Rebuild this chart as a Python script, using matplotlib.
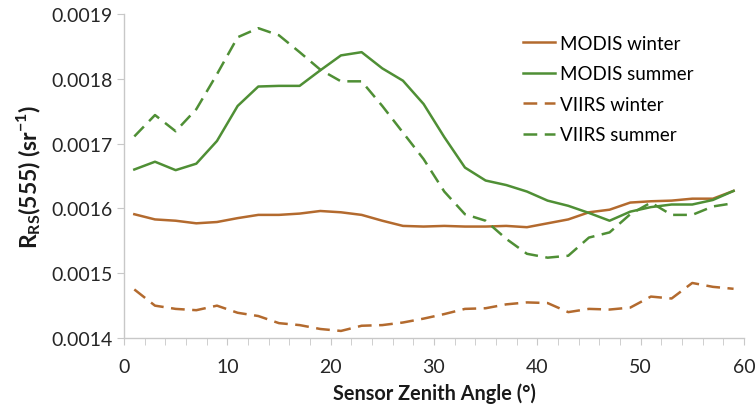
import numpy as np
import matplotlib
matplotlib.use("Agg")
import matplotlib.pyplot as plt

plt.rcParams['font.family'] = ['Lato', 'DejaVu Sans']
plt.rcParams['mathtext.fontset'] = 'custom'
plt.rcParams['mathtext.rm'] = 'Lato'
plt.rcParams['mathtext.bf'] = 'Lato:bold'

# sensor zenith angle (deg), bin centres
angle = np.arange(1, 60, 2)

# Rrs(555) in units of 1e-4 sr^-1
modis_winter = [15.91, 15.83, 15.81, 15.77, 15.79, 15.85, 15.90, 15.90, 15.92, 15.96,
                15.94, 15.90, 15.81, 15.73, 15.72, 15.73, 15.72, 15.72, 15.73, 15.71,
                15.77, 15.83, 15.94, 15.98, 16.09, 16.11, 16.12, 16.15, 16.15, 16.27]
modis_summer = [16.60, 16.72, 16.59, 16.69, 17.04, 17.58, 17.88, 17.89, 17.89, 18.13,
                18.36, 18.41, 18.16, 17.97, 17.61, 17.10, 16.63, 16.43, 16.36, 16.26,
                16.12, 16.04, 15.93, 15.81, 15.95, 16.02, 16.06, 16.06, 16.13, 16.27]
viirs_winter = [14.75, 14.50, 14.45, 14.43, 14.50, 14.39, 14.34, 14.23, 14.20, 14.14,
                14.11, 14.19, 14.20, 14.24, 14.30, 14.37, 14.45, 14.46, 14.52, 14.55,
                14.54, 14.40, 14.45, 14.44, 14.47, 14.64, 14.61, 14.85, 14.79, 14.76]
viirs_summer = [17.11, 17.44, 17.19, 17.53, 18.07, 18.64, 18.78, 18.67, 18.41, 18.14,
                17.96, 17.96, 17.58, 17.17, 16.76, 16.26, 15.91, 15.81, 15.53, 15.30,
                15.24, 15.27, 15.55, 15.63, 15.91, 16.09, 15.90, 15.90, 16.03, 16.08]

brown = '#B36A2E'
green = '#4F8F35'

fig = plt.figure(figsize=(7.56, 4.14), dpi=100)
ax = fig.add_axes([0.164, 0.181, 0.820, 0.783])

scale = 1e-4
ax.plot(angle, np.array(modis_winter) * scale, color=brown, lw=1.8, label='MODIS winter')
ax.plot(angle, np.array(modis_summer) * scale, color=green, lw=1.8, label='MODIS summer')
ax.plot(angle, np.array(viirs_winter) * scale, color=brown, lw=1.8, dashes=(5.5, 3), label='VIIRS winter')
ax.plot(angle, np.array(viirs_summer) * scale, color=green, lw=1.8, dashes=(5.5, 3), label='VIIRS summer')

ax.set_xlim(0, 60)
ax.set_ylim(0.0014, 0.0019)
ax.set_xticks(np.arange(0, 61, 10))
ax.set_xticks(np.arange(0, 61, 2), minor=True)
ax.set_yticks([0.0014, 0.0015, 0.0016, 0.0017, 0.0018, 0.0019])
ax.set_yticklabels(['0.0014', '0.0015', '0.0016', '0.0017', '0.0018', '0.0019'])

for s in ['top', 'right']:
    ax.spines[s].set_visible(False)
for s in ['left', 'bottom']:
    ax.spines[s].set_color('#c8c8c8')
    ax.spines[s].set_linewidth(1.0)
ax.tick_params(axis='both', which='both', color='#c8c8c8', labelsize=14,
               labelcolor='#262626', direction='out')
ax.tick_params(axis='x', which='both', length=5, pad=9)
ax.tick_params(axis='y', length=5, pad=3)

ax.set_xlabel('Sensor Zenith Angle (°)', fontsize=14.3, fontweight='bold', color='#1a1a1a', labelpad=6)
ax.set_ylabel(r'R$_\mathbf{RS}$(555) (sr$^\mathbf{-1}$)', fontsize=16.5, fontweight='bold',
              color='#1a1a1a', labelpad=6)

ax.legend(loc='upper left', bbox_to_anchor=(0.644, 0.935), frameon=False, fontsize=13.5,
          handlelength=1.7, handletextpad=0.25, labelspacing=0.72, borderpad=0, borderaxespad=0)

fig.savefig('out.png', dpi=100)
